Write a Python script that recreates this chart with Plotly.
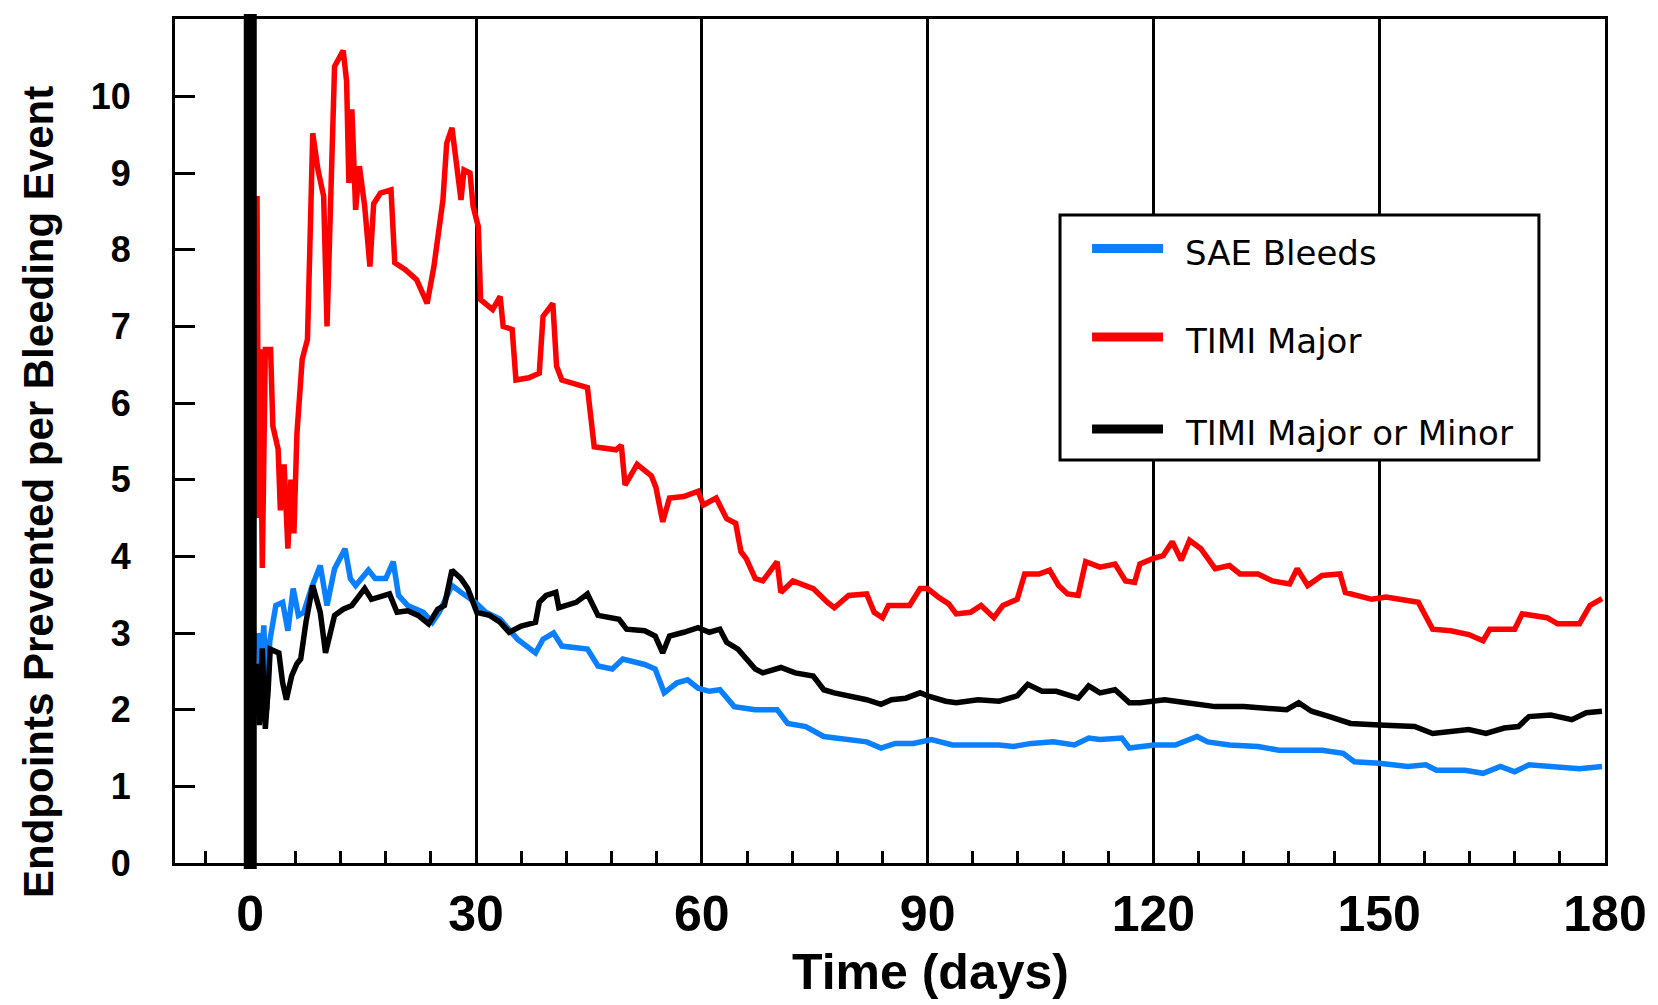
import plotly.graph_objects as go

# ---------------- data ----------------
series_names = ["SAE Bleeds", "TIMI Major", "TIMI Major or Minor"]
series_colors = ["#0A7FFF", "#FF0000", "#000000"]

sae_days = [1.0, 1.4, 1.8, 2.2, 2.6, 3.4, 4.3, 5.0, 5.7, 6.4, 7.1, 8.1, 9.3, 10.2, 11.2,
            12.6, 13.3, 14.0, 15.7, 16.6, 18.0, 19.0, 19.7, 20.9, 23.0, 24.2, 25.1, 26.8,
            28.0, 29.9, 31.3, 33.2, 35.5, 36.7, 37.9, 38.9, 40.3, 41.4, 44.8, 46.2, 48.1,
            49.5, 52.4, 53.8, 55.0, 56.7, 58.1, 59.5, 61.0, 62.4, 64.3, 67.1, 70.0, 71.4,
            73.8, 76.2, 79.0, 81.9, 83.8, 85.7, 88.1, 90.5, 93.3, 96.7, 99.5, 101.4, 103.8,
            106.7, 109.5, 111.4, 112.9, 115.8, 116.8, 120.1, 122.9, 125.8, 127.2, 130.1,
            133.9, 136.7, 142.4, 145.2, 146.7, 150.0, 153.8, 156.2, 157.6, 161.4, 163.8,
            166.1, 168.0, 169.9, 173.7, 176.6, 179.6]
sae_vals = [3.0, 2.4, 3.1, 2.0, 2.9, 3.36, 3.4, 3.03, 3.58, 3.23, 3.27, 3.58, 3.88, 3.36, 3.84,
            4.1, 3.71, 3.62, 3.82, 3.71, 3.71, 3.93, 3.49, 3.36, 3.27, 3.14, 3.27, 3.62,
            3.53, 3.4, 3.27, 3.18, 2.92, 2.83, 2.74, 2.92, 3.0, 2.83, 2.79, 2.57, 2.53,
            2.66, 2.59, 2.53, 2.22, 2.35, 2.39, 2.28, 2.24, 2.26, 2.04, 2.0, 2.0, 1.82,
            1.78, 1.65, 1.61, 1.58, 1.5, 1.56, 1.56, 1.61, 1.54, 1.54, 1.54, 1.52, 1.56,
            1.58, 1.54, 1.63, 1.61, 1.63, 1.5, 1.54, 1.54, 1.65, 1.58, 1.54,
            1.52, 1.47, 1.47, 1.43, 1.32, 1.30, 1.26, 1.28, 1.21, 1.21, 1.17,
            1.26, 1.19, 1.28, 1.26, 1.23, 1.26]

major_days = [0.9, 1.1, 1.3, 1.6, 2.0, 2.7, 3.0, 3.7, 4.0, 4.5, 5.0, 5.4, 5.8, 6.2, 6.9, 7.6,
              7.9, 8.3, 9.0, 9.75, 10.2, 10.7, 11.2, 12.35, 12.8, 13.1, 13.5, 14.0, 14.5,
              15.2, 15.9, 16.4, 17.3, 18.7, 19.2, 20.6, 22.1, 23.5, 24.4, 25.6, 26.1, 26.8,
              27.5, 28.0, 28.4, 29.2, 29.6, 30.3, 30.6, 31.3, 32.2, 33.2, 33.6, 34.8, 35.3,
              37.0, 38.4, 38.9, 40.2, 40.7, 41.4, 44.8, 45.7, 48.6, 49.3, 49.8, 51.4, 53.3,
              53.9, 54.8, 55.7, 57.6, 59.5, 60.2, 61.9, 63.3, 64.5, 65.2, 65.9, 67.1, 68.1,
              70.0, 70.5, 72.1, 74.8, 76.7, 77.6, 79.5, 81.9, 82.9, 84.0, 84.8, 87.6, 89.0,
              90.0, 91.4, 92.8, 93.8, 95.7, 97.1, 98.8, 100.0, 101.9, 102.9, 104.8, 106.2,
              107.4, 108.6, 110.0, 111.0, 112.9, 114.9, 116.3, 117.5, 118.2, 119.9, 121.3,
              122.5, 123.7, 124.8, 126.3, 128.2, 130.1, 131.5, 133.9, 135.8, 138.1, 139.1,
              140.5, 142.4, 144.8, 145.5, 149.0, 150.9, 153.3, 155.2, 157.1, 159.5, 161.9,
              163.8, 164.7, 168.0, 169.0, 172.3, 173.7, 176.6, 178.0, 179.6]
major_vals = [8.7, 4.5, 6.7, 3.85, 6.7, 6.7, 5.7, 5.4, 4.6, 5.2, 4.1, 5.0, 4.3, 5.6, 6.57, 6.83,
              7.96, 9.52, 9.04, 8.7, 7.0, 8.48, 10.39, 10.6, 10.2, 8.87, 9.83, 8.52, 9.09,
              8.57, 7.78, 8.6, 8.74, 8.78, 7.83, 7.74, 7.61, 7.3, 7.78, 8.65, 9.39, 9.59,
              9.0, 8.65, 9.04, 9.0, 8.57, 8.3, 7.35, 7.3, 7.22, 7.39, 7.0, 6.96, 6.3,
              6.33, 6.39, 7.13, 7.3, 6.48, 6.3, 6.2, 5.43, 5.39, 5.45, 4.93, 5.2, 5.05,
              4.9, 4.45, 4.76, 4.78, 4.85, 4.67, 4.76, 4.49, 4.43, 4.06, 3.97, 3.71, 3.68,
              3.93, 3.53, 3.68, 3.58, 3.40, 3.33, 3.49, 3.51, 3.27, 3.2, 3.36, 3.36, 3.58,
              3.58, 3.47, 3.38, 3.25, 3.27, 3.36, 3.2, 3.36, 3.44, 3.77, 3.77, 3.82,
              3.62, 3.51, 3.49, 3.93, 3.86, 3.9, 3.68, 3.66, 3.9, 3.97, 4.01,
              4.19, 3.95, 4.21, 4.1, 3.84, 3.88, 3.77, 3.77, 3.68, 3.64, 3.84,
              3.62, 3.75, 3.77, 3.53, 3.44, 3.47, 3.44, 3.4, 3.05, 3.03, 2.98,
              2.9, 3.05, 3.05, 3.25, 3.2, 3.12, 3.12, 3.36, 3.45]

minor_days = [0.8, 1.2, 1.6, 2.0, 2.4, 2.65, 3.8, 4.3, 4.8, 5.5, 6.2, 6.7, 7.4, 8.3, 9.3, 10.0,
              11.2, 12.35, 13.5, 14.5, 15.2, 16.1, 17.1, 18.5, 19.5, 20.9, 22.3, 23.7, 24.9,
              25.8, 26.8, 28.0, 28.9, 30.1, 31.8, 33.2, 34.4, 36.0, 37.9, 38.4, 39.3, 40.6,
              41.0, 43.3, 44.8, 46.2, 49.0, 50.0, 52.4, 53.8, 54.8, 55.7, 57.6, 59.5, 61.0,
              62.4, 63.3, 64.8, 67.1, 68.1, 70.5, 72.4, 74.8, 76.2, 77.6, 79.5, 81.9, 83.8,
              85.2, 87.1, 89.0, 90.0, 92.4, 93.8, 96.7, 99.5, 101.9, 103.3, 105.2, 107.1,
              110.0, 111.4, 112.9, 114.9, 116.8, 118.2, 121.5, 124.4, 128.2, 132.0, 135.8,
              137.7, 139.3, 141.0, 143.4, 146.2, 150.0, 154.7, 157.1, 159.5, 161.9, 164.2,
              166.6, 168.5, 169.9, 172.8, 175.6, 177.5, 179.6]
minor_vals = [2.6, 1.8, 2.8, 1.75, 2.3, 2.79, 2.74, 2.35, 2.13, 2.44, 2.6, 2.66, 3.14, 3.62, 3.27, 2.74,
              3.23, 3.31, 3.36, 3.49, 3.58, 3.44, 3.47, 3.51, 3.27, 3.29, 3.23, 3.12, 3.31,
              3.36, 3.82, 3.71, 3.58, 3.27, 3.23, 3.14, 3.01, 3.09, 3.14, 3.4, 3.49, 3.53,
              3.33, 3.4, 3.51, 3.23, 3.18, 3.05, 3.03, 2.96, 2.74, 2.96, 3.01, 3.07, 3.01,
              3.05, 2.88, 2.79, 2.53, 2.48, 2.55, 2.48, 2.44, 2.26, 2.22, 2.18, 2.13, 2.07,
              2.13, 2.15, 2.22, 2.18, 2.11, 2.09, 2.13, 2.11, 2.18, 2.33, 2.24, 2.24,
              2.15, 2.31, 2.22, 2.26, 2.09, 2.09, 2.13, 2.09, 2.04, 2.04, 2.02,
              2.0, 2.09, 1.98, 1.91, 1.82, 1.80, 1.78, 1.69, 1.72, 1.74, 1.69,
              1.76, 1.78, 1.91, 1.93, 1.87, 1.96, 1.98]

x_tick_vals = [0, 30, 60, 90, 120, 150, 180]
y_tick_vals = [0, 1, 2, 3, 4, 5, 6, 7, 8, 9, 10]
x_title = "Time (days)"
y_title = "Endpoints Prevented per Bleeding Event"

# ---------------- figure ----------------
fig = go.Figure()
all_days = [sae_days, major_days, minor_days]
all_vals = [sae_vals, major_vals, minor_vals]
for name, color, d, v in zip(series_names, series_colors, all_days, all_vals):
    fig.add_trace(go.Scatter(x=d, y=v, mode="lines", name=name,
                             line=dict(color=color, width=5.5), showlegend=False))

bold_font = "Liberation Sans, Arial, sans-serif"

fig.update_layout(
    width=1658, height=1005,
    margin=dict(l=175, r=53, t=19, b=142),
    paper_bgcolor="white", plot_bgcolor="white",
    showlegend=False,
)

fig.update_xaxes(
    range=[-10, 180], tickmode="array", tickvals=x_tick_vals,
    ticks="inside", ticklen=12, tickwidth=3, tickcolor="black",
    minor=dict(tickmode="linear", tick0=0, dtick=6, ticks="inside", ticklen=12,
               tickwidth=3, tickcolor="black", showgrid=False),
    showgrid=True, gridcolor="black", gridwidth=3,
    showline=True, linecolor="black", linewidth=3, mirror=True,
    zeroline=False,
    tickfont=dict(family=bold_font, size=50, color="black", weight="bold"),
    ticklabelstandoff=5,
)
fig.update_yaxes(
    range=[0, 11.01], tickmode="array", tickvals=y_tick_vals,
    ticks="inside", ticklen=20, tickwidth=3, tickcolor="black",
    showgrid=False, showline=True, linecolor="black", linewidth=3, mirror=True,
    zeroline=False,
    tickfont=dict(family=bold_font, size=36, color="black", weight="bold"),
    ticklabelstandoff=34,
)

# thick reference line at day 0
fig.add_shape(type="line", xref="x", yref="paper", x0=0, x1=0, y0=-0.007, y1=1.006,
              line=dict(color="black", width=13), layer="above")

# axis titles
fig.add_annotation(text=x_title, xref="paper", yref="paper", x=0.528, y=-0.1295,
                   xanchor="center", yanchor="middle", showarrow=False,
                   font=dict(family=bold_font, size=50, color="black", weight="bold"))
fig.add_annotation(text=y_title, xref="paper", yref="paper", x=-0.0951, y=0.4396,
                   xanchor="center", yanchor="middle", showarrow=False, textangle=-90,
                   font=dict(family=bold_font, size=42, color="black", weight="bold"))

# legend box (drawn manually to match the long sample lines)
fig.add_shape(type="rect", xref="paper", yref="paper", x0=0.6189, x1=0.9538,
              y0=0.4775, y1=0.7678, line=dict(color="black", width=3),
              fillcolor="white", layer="above")
leg_line_y = [0.7281, 0.6232, 0.5142]
leg_text_y = [0.7230, 0.6187, 0.5097]
for name, color, ly, ty in zip(series_names, series_colors, leg_line_y, leg_text_y):
    fig.add_shape(type="line", xref="paper", yref="paper", x0=0.6413, x1=0.6909,
                  y0=ly, y1=ly, line=dict(color=color, width=9), layer="above")
    fig.add_annotation(text=name, xref="paper", yref="paper", x=0.7049, y=ty,
                       xanchor="left", yanchor="middle", showarrow=False,
                       font=dict(family="DejaVu Sans, sans-serif", size=34, color="black"))

fig.write_html("out.html")
